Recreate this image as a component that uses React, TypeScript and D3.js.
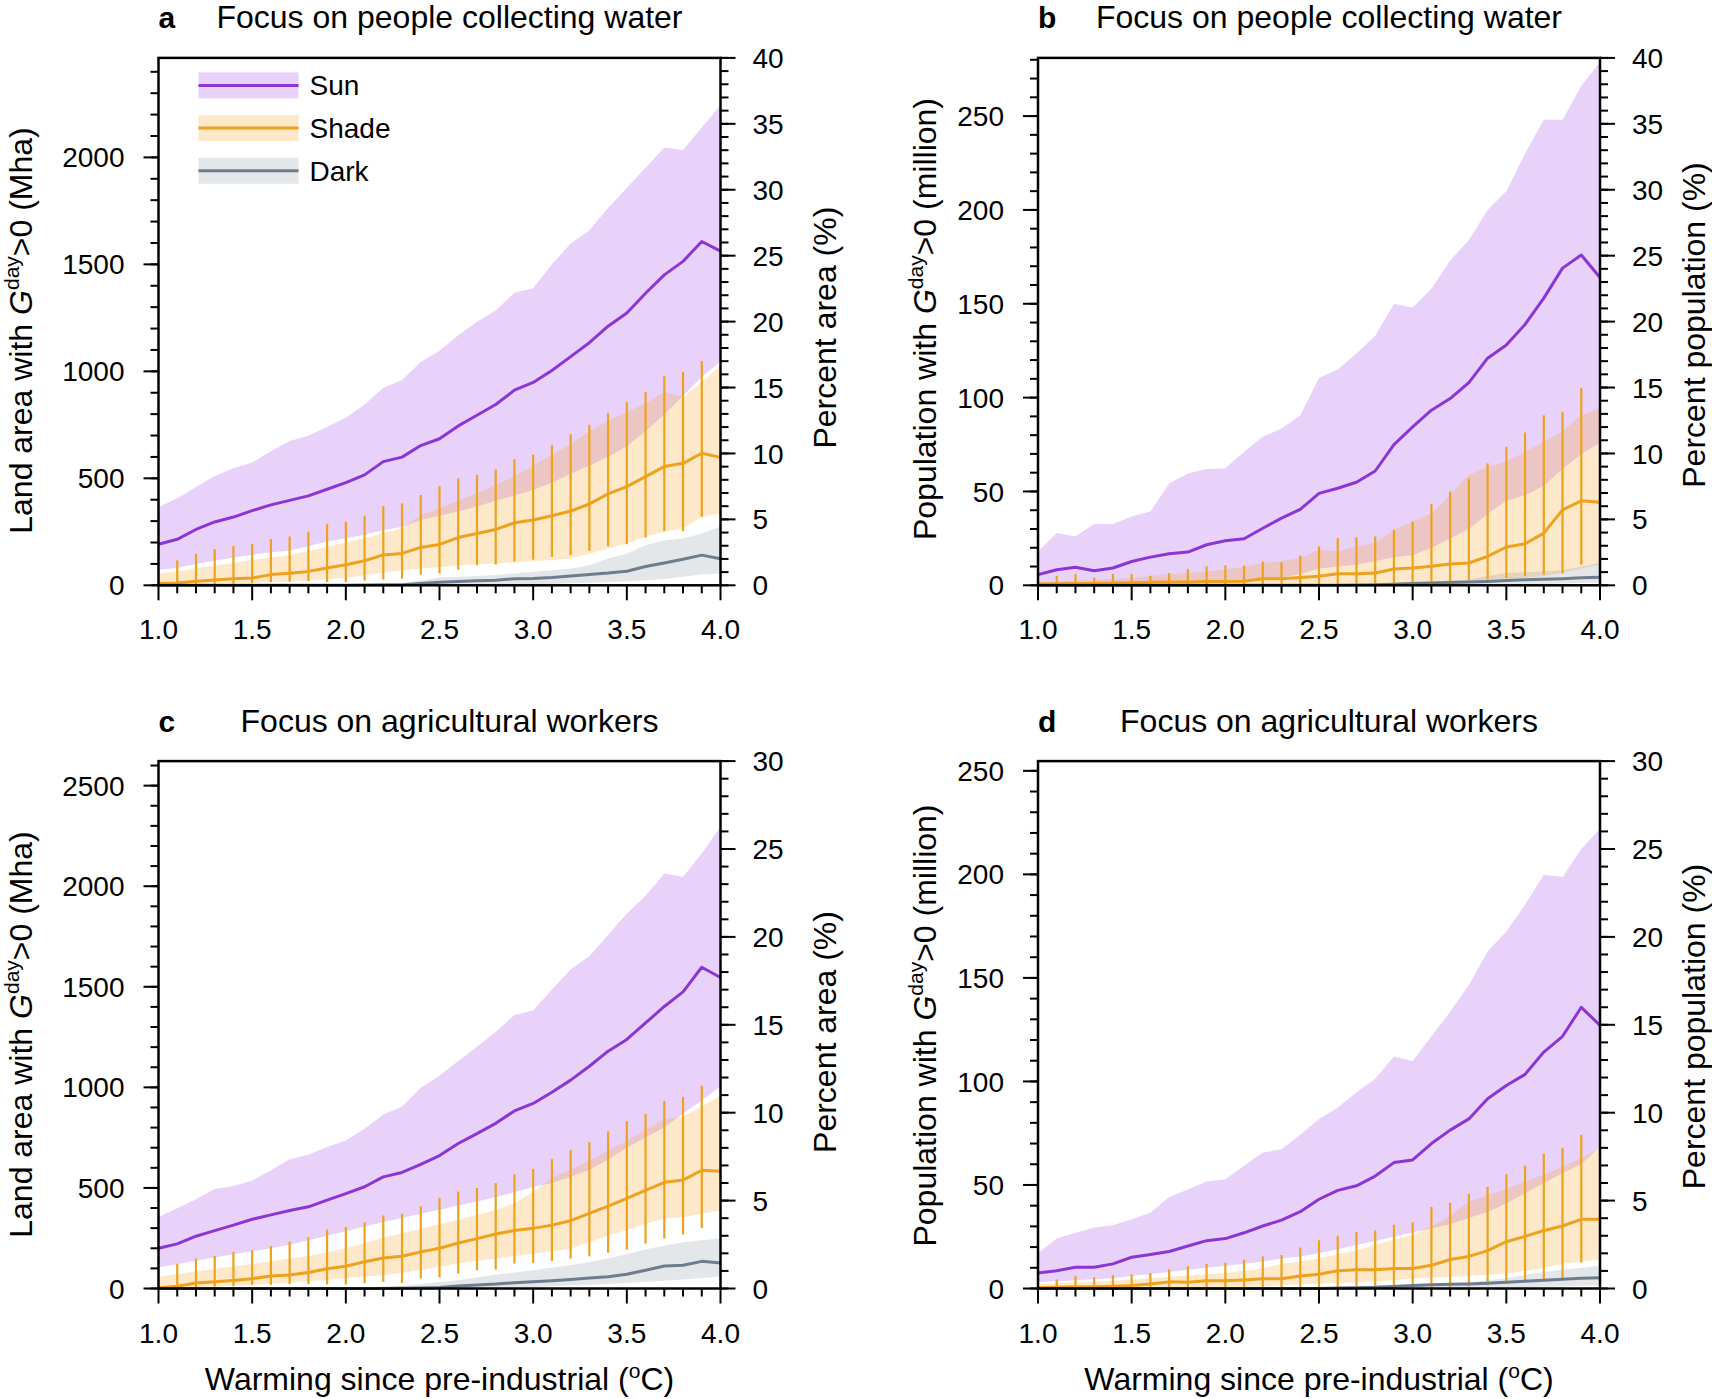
import React from 'react';
import * as d3 from 'd3';

// warming levels (°C above pre-industrial)
const warming = [1.0, 1.1, 1.2, 1.3, 1.4, 1.5, 1.6, 1.7, 1.8, 1.9, 2.0, 2.1, 2.2, 2.3, 2.4, 2.5, 2.6, 2.7, 2.8, 2.9, 3.0, 3.1, 3.2, 3.3, 3.4, 3.5, 3.6, 3.7, 3.8, 3.9, 4.0];
// error bars are drawn for 1.1 ... 3.9
const barWarming = warming.slice(1, 30);
const xTicks = [1.0, 1.5, 2.0, 2.5, 3.0, 3.5, 4.0];

// ---- panel a: land area, people collecting water (Mha)
const aSunMid = [192, 215, 261, 296, 319, 349, 376, 397, 418, 449, 480, 516, 578, 599, 653, 685, 745, 795, 845, 912, 948, 1004, 1069, 1134, 1211, 1273, 1365, 1451, 1514, 1607, 1562];
const aSunHi = [365, 407, 459, 511, 547, 574, 626, 674, 699, 741, 783, 845, 923, 960, 1044, 1096, 1169, 1232, 1284, 1367, 1388, 1500, 1597, 1660, 1764, 1858, 1952, 2046, 2035, 2140, 2244];
const aSunLo = [73, 81, 99, 115, 130, 143, 155, 161, 182, 205, 220, 236, 259, 272, 305, 325, 345, 368, 395, 420, 445, 480, 520, 560, 600, 650, 720, 800, 885, 975, 1045];
const aShadeMid = [8, 11, 19, 25, 31, 34, 50, 56, 65, 81, 96, 115, 142, 149, 177, 191, 223, 242, 261, 292, 305, 325, 347, 380, 427, 461, 508, 555, 570, 617, 598];
const aShadeHi = [55, 65, 80, 92, 104, 118, 130, 142, 160, 180, 200, 220, 245, 265, 330, 360, 395, 430, 470, 510, 560, 610, 660, 720, 770, 810, 850, 905, 880, 950, 1025];
const aShadeLo = [3, 4, 6, 8, 10, 12, 15, 18, 22, 28, 36, 46, 60, 70, 78, 86, 92, 97, 102, 107, 112, 118, 125, 148, 172, 195, 227, 250, 266, 320, 336];
const aBarHi = [116, 148, 169, 183, 194, 216, 228, 250, 286, 298, 325, 370, 383, 422, 464, 500, 516, 542, 589, 611, 655, 706, 750, 805, 856, 903, 977, 998, 1048];
const aBarLo = [3, 3, 5, 7, 10, 14, 17, 20, 15, 15, 22, 27, 31, 50, 55, 73, 94, 97, 112, 120, 133, 141, 161, 183, 192, 223, 253, 253, 320];
const aDarkMid = [0, 0, 0, 0, 0, 0, 0, 0, 0, 0, 0, 1, 2, 3, 8, 14, 18, 21, 24, 31, 32, 36, 44, 50, 57, 66, 88, 104, 122, 141, 124];
const aDarkHi = [0, 0, 0, 0, 0, 0, 1, 1, 2, 2, 3, 4, 6, 10, 22, 36, 40, 44, 48, 56, 63, 70, 78, 94, 125, 148, 188, 211, 219, 242, 275];
const aDarkLo = [0, 0, 0, 0, 0, 0, 0, 0, 0, 0, 0, 0, 0, 0, 0, 0, 0, 0, 1, 2, 4, 6, 9, 12, 15, 18, 24, 30, 40, 50, 55];

// ---- panel b: population, people collecting water (million)
const bSunMid = [5.7, 8.3, 9.6, 7.8, 9.2, 12.7, 15.0, 16.8, 17.7, 21.6, 23.7, 24.8, 30.4, 35.8, 40.5, 49.0, 51.7, 54.9, 60.9, 75.0, 84.4, 93.3, 99.5, 108, 121, 128, 139, 153, 169, 176, 164];
const bSunHi = [18, 27.8, 26, 32.6, 32.6, 36.6, 39.3, 54.3, 59.6, 61.9, 62.3, 71.2, 79.1, 83.5, 90.6, 110.5, 115, 123.5, 133, 150, 148, 158, 173, 184, 200, 210, 230, 248, 248, 266, 279];
const bSunLo = [1, 1, 1, 1, 1.2, 1.4, 1.6, 1.8, 2, 2, 2.2, 2.5, 3, 4, 6, 9, 10, 11, 13, 15, 16, 20, 25, 30, 38, 45, 48, 53, 62, 70, 76];
const bShadeMid = [0.7, 0.8, 1, 1, 1.2, 1.4, 1.6, 1.8, 1.8, 2, 2, 2.1, 3.5, 3.5, 4.2, 4.8, 6.2, 6.2, 6.5, 8.7, 9.2, 10.1, 11.3, 11.9, 15.4, 20.4, 22.1, 27.8, 40.2, 45, 44.2];
const bShadeHi = [1.5, 2, 2.5, 3, 3.5, 3.9, 5, 6, 6.5, 7.5, 8.3, 10, 11.9, 13, 14.5, 18.9, 18, 20.7, 22.5, 29.6, 34, 38.4, 48.1, 58.8, 63.2, 65.8, 71.2, 76.5, 82.1, 90.6, 94.2];
const bShadeLo = [0, 0, 0, 0, 0, 0, 0, 0, 0, 0, 0.1, 0.2, 0.3, 0.3, 0.4, 0.5, 0.5, 0.6, 0.8, 1, 1.2, 1.5, 2, 2.5, 3, 3.5, 4, 5, 6.5, 9, 11];
const bBarHi = [5.1, 6, 4.2, 6.2, 6, 5.1, 6.5, 8.7, 10.1, 10.6, 10.6, 12.7, 12.2, 15.9, 20.7, 25.1, 25.5, 26, 29.6, 34, 43.2, 49.9, 57, 65, 73.8, 81.4, 90.6, 92.4, 105];
const bBarLo = [0, 0, 0, 0, 0, 0, 0, 0, 0, 0, 0, 0, 0, 0, 0, 0, 0, 0.5, 0.8, 1, 2, 2, 2.8, 3, 3.9, 4.8, 5.7, 6.2, 11];
const bDarkMid = [0, 0, 0, 0, 0, 0, 0, 0, 0, 0, 0, 0, 0, 0, 0, 0, 0, 0.2, 0.3, 0.6, 1, 1.2, 1.5, 1.7, 2, 2.5, 3, 3.2, 3.5, 4, 4.3];
const bDarkHi = [0, 0, 0, 0, 0, 0, 0, 0, 0, 0, 0, 0, 0, 0, 0, 0.3, 0.5, 0.8, 1, 1.3, 1.5, 2, 2.5, 3, 5, 6.5, 7, 7.5, 8, 10, 12];
const bDarkLo = [0, 0, 0, 0, 0, 0, 0, 0, 0, 0, 0, 0, 0, 0, 0, 0, 0, 0, 0, 0, 0, 0, 0, 0, 0, 0.2, 0.4, 0.6, 0.9, 1.2, 1.5];

// ---- panel c: land area, agricultural workers (Mha)
const cSunMid = [200, 222, 260, 288, 315, 344, 366, 388, 406, 439, 472, 506, 555, 577, 617, 661, 721, 770, 821, 883, 920, 976, 1036, 1105, 1180, 1238, 1320, 1402, 1475, 1597, 1546];
const cSunHi = [355, 399, 444, 495, 510, 537, 588, 643, 665, 703, 736, 794, 865, 905, 998, 1058, 1131, 1202, 1275, 1360, 1382, 1486, 1586, 1652, 1759, 1863, 1952, 2063, 2047, 2163, 2296];
const cSunLo = [106, 120, 138, 154, 170, 185, 200, 218, 240, 262, 285, 308, 330, 350, 372, 392, 413, 433, 454, 478, 504, 525, 555, 590, 640, 700, 752, 801, 870, 935, 1005];
const cShadeMid = [4, 11, 27, 33, 40, 49, 62, 67, 80, 98, 111, 133, 152, 160, 182, 200, 226, 248, 271, 288, 299, 315, 337, 373, 410, 448, 488, 528, 539, 588, 583];
const cShadeHi = [60, 72, 85, 97, 110, 122, 135, 148, 162, 180, 200, 225, 253, 275, 297, 320, 342, 365, 390, 425, 480, 550, 590, 636, 685, 735, 790, 842, 855, 905, 960];
const cShadeLo = [3, 5, 8, 10, 14, 18, 24, 30, 36, 44, 52, 60, 66, 78, 91, 108, 124, 137, 149, 161, 173, 185, 198, 230, 264, 289, 322, 347, 355, 372, 388];
const cBarHi = [122, 149, 162, 182, 189, 211, 233, 255, 293, 306, 328, 363, 372, 408, 451, 482, 500, 524, 567, 595, 643, 689, 727, 781, 831, 867, 933, 953, 1008];
const cBarLo = [4, 4, 9, 11, 18, 18, 22, 22, 20, 20, 27, 33, 28, 50, 55, 74, 91, 94, 124, 127, 137, 149, 160, 178, 193, 223, 248, 269, 301];
const cDarkMid = [0, 0, 0, 0, 0, 0, 0, 0, 0, 0, 0, 0, 0, 1, 3, 5, 12, 18, 22, 29, 33, 38, 45, 52, 58, 71, 91, 112, 116, 135, 127];
const cDarkHi = [0, 0, 0, 0, 0, 0, 0, 0, 1, 2, 3, 5, 10, 14, 22, 32, 41, 55, 68, 80, 91, 104, 116, 132, 149, 170, 195, 212, 230, 240, 250];
const cDarkLo = [0, 0, 0, 0, 0, 0, 0, 0, 0, 0, 0, 0, 0, 0, 0, 0, 0, 1, 3, 5, 8, 11, 15, 18, 22, 27, 33, 39, 45, 52, 58];

// ---- panel d: population, agricultural workers (million)
const dSunMid = [7.5, 8.6, 10.3, 10.3, 11.9, 15.1, 16.4, 17.9, 20.5, 23.1, 24.1, 26.9, 30.2, 33, 37.1, 43.1, 47.4, 49.6, 54.3, 60.8, 62.1, 70, 76.5, 81.9, 91.6, 98, 103.4, 114.2, 121.8, 135.8, 127.1];
const dSunHi = [17.2, 24.1, 26.9, 29.5, 30.6, 33.4, 36.6, 44.2, 47.8, 51.7, 52.8, 59.3, 65.7, 67.2, 74.3, 81.9, 87.3, 94.8, 101.3, 112.1, 109.9, 121.8, 133.6, 146.5, 162.7, 172.4, 185.3, 199.8, 198.7, 212.3, 222];
const dSunLo = [3, 3.5, 4, 4.5, 5, 6, 7, 8, 9, 10, 11, 12, 13, 14.5, 15.5, 17, 19, 21, 23, 25, 27, 29, 31, 34, 37, 41, 46, 51, 55.6, 60, 68.5];
const dShadeMid = [0.4, 0.6, 0.9, 0.9, 1.1, 1.5, 2.2, 3.2, 3, 3.7, 3.7, 4.1, 4.7, 4.7, 6, 6.9, 8.6, 9.1, 9.1, 9.7, 9.7, 11.2, 14, 15.5, 18.3, 22.6, 25.2, 28, 30.2, 33.4, 33.4];
const dShadeHi = [2.2, 2.6, 3, 3.4, 3.8, 4.3, 5, 5.7, 6.3, 6.9, 7.5, 8.6, 9.7, 12, 13, 14.5, 16.5, 18.5, 21, 23.5, 26, 30, 35, 42, 45, 48, 51.5, 55, 58.8, 63, 67.7];
const dShadeLo = [0, 0, 0, 0, 0, 0.1, 0.2, 0.3, 0.4, 0.5, 0.6, 0.8, 1, 1.5, 2, 2.3, 2.7, 3, 3.5, 4, 4.8, 5.2, 5.6, 6, 6.6, 7.2, 8.5, 10, 12, 13, 14];
const dBarHi = [4.3, 6, 5.4, 6.5, 6.9, 7.5, 9.3, 10.8, 11.9, 12.5, 14, 15.5, 16.2, 19.8, 23.3, 25.4, 27.4, 28, 30.8, 31.9, 39.4, 41.4, 45.7, 49.1, 55.2, 59.3, 65.1, 67.9, 74.3];
const dBarLo = [0, 0, 0, 0, 0, 0, 0, 0, 0, 0, 0, 0, 0, 0, 0, 0, 0, 0, 0, 0, 0.4, 0.6, 1, 1.5, 2.2, 3.2, 4.3, 4.7, 12.5];
const dDarkMid = [0, 0, 0, 0, 0, 0, 0, 0, 0, 0, 0, 0, 0, 0, 0, 0, 0.2, 0.4, 0.6, 1, 1.5, 1.8, 2, 2.2, 2.5, 3, 3.5, 4, 4.5, 5, 5.2];
const dDarkHi = [0, 0, 0, 0, 0, 0, 0, 0, 0, 0, 0, 0, 0, 0, 0.3, 0.5, 0.8, 1.2, 1.5, 1.8, 2, 2.3, 2.6, 3, 4, 5, 6.5, 8, 9, 10, 11];
const dDarkLo = [0, 0, 0, 0, 0, 0, 0, 0, 0, 0, 0, 0, 0, 0, 0, 0, 0, 0, 0, 0, 0, 0, 0, 0, 0.2, 0.4, 0.6, 0.8, 1, 1.3, 1.5];

// axis tick labels
const areaTicksA = [0, 500, 1000, 1500, 2000];
const areaTicksC = [0, 500, 1000, 1500, 2000, 2500];
const popTicks = [0, 50, 100, 150, 200, 250];
const pctTicks40 = [0, 5, 10, 15, 20, 25, 30, 35, 40];
const pctTicks30 = [0, 5, 10, 15, 20, 25, 30];
const legendNames = ['Sun', 'Shade', 'Dark'];

const FONT = '"Liberation Sans", Arial, Helvetica, sans-serif';
const SUN_LINE = '#8b35d6';
const SUN_FILL = '#e9d2fa';
const SHADE_LINE = '#eea11c';
const SHADE_FILL = '#f5a31c';
const SHADE_OP = 0.24;
const DARK_LINE = '#6d7d8d';
const DARK_FILL = '#7a8898';
const DARK_OP = 0.2;

const PW = 562;
const PH = 527.4;

interface Band { mid: number[]; lo: number[]; hi: number[] }

interface PanelProps {
  letter: string;
  title: string;
  left: number;
  top: number;
  yMax: number;
  yTicks: number[];
  yMinor: number;
  pctMax: number;
  pctTicks: number[];
  kind: 'area' | 'pop';
  rightLabel: string;
  leftLabelX: number;
  leftLabelY: number;
  rightLabelX: number;
  rightLabelY: number;
  sun: Band;
  shade: Band;
  dark: Band;
  barLo: number[];
  barHi: number[];
  legend?: boolean;
  xLabel?: boolean;
}

const Panel: React.FC<PanelProps> = p => {
  const x = d3.scaleLinear().domain([1, 4]).range([p.left, p.left + PW]);
  const y = d3.scaleLinear().domain([0, p.yMax]).range([p.top + PH, p.top]);
  const yr = d3.scaleLinear().domain([0, p.pctMax]).range([p.top + PH, p.top]);
  const bottom = p.top + PH;
  const right = p.left + PW;

  const area = (lo: number[], hi: number[]) =>
    d3.area<number>()
      .x((_, i) => x(warming[i]))
      .y0((_, i) => y(lo[i]))
      .y1((_, i) => y(hi[i]))(warming) || '';
  const line = (v: number[]) =>
    d3.line<number>()
      .x((_, i) => x(warming[i]))
      .y((_, i) => y(v[i]))(warming) || '';

  const xMinor = d3.range(10, 41).map(v => v / 10);
  const yMinor = d3.range(0, p.yMax + 0.001, p.yMinor);
  const rMinor = d3.range(0, p.pctMax + 1, 1);

  const gLabel = p.kind === 'area' ? '>0 (Mha)' : '>0 (million)';
  const gLead = p.kind === 'area' ? 'Land area with ' : 'Population with ';

  return (
    <g fontFamily={FONT}>
      {/* bands */}
      <path d={area(p.sun.lo, p.sun.hi)} fill={SUN_FILL} />
      <path d={area(p.shade.lo, p.shade.hi)} fill={SHADE_FILL} fillOpacity={SHADE_OP} />
      <path d={area(p.dark.lo, p.dark.hi)} fill={DARK_FILL} fillOpacity={DARK_OP} />

      {/* shade error bars */}
      {barWarming.map((w, i) => (
        <line key={'b' + i} x1={x(w)} x2={x(w)} y1={y(p.barLo[i])} y2={y(p.barHi[i])}
          stroke={SHADE_LINE} strokeWidth={2.2} />
      ))}

      <path d={line(p.shade.mid)} fill="none" stroke={SHADE_LINE} strokeWidth={3} strokeLinejoin="round" />
      <path d={line(p.dark.mid)} fill="none" stroke={DARK_LINE} strokeWidth={3} strokeLinejoin="round" />
      <path d={line(p.sun.mid)} fill="none" stroke={SUN_LINE} strokeWidth={3} strokeLinejoin="round" />

      {/* frame */}
      <rect x={p.left} y={p.top} width={PW} height={PH} fill="none" stroke="#000" strokeWidth={2.5} />

      {/* x ticks */}
      {xMinor.map((v, i) => {
        const major = Math.abs(v * 2 - Math.round(v * 2)) < 1e-6;
        return <line key={'xt' + i} x1={x(v)} x2={x(v)} y1={bottom} y2={bottom + (major ? 15 : 8)} stroke="#000" strokeWidth={2} />;
      })}
      {xTicks.map(v => (
        <text key={'xl' + v} x={x(v)} y={bottom + 54} fontSize={28} textAnchor="middle">{v.toFixed(1)}</text>
      ))}

      {/* left axis */}
      {yMinor.map((v, i) => (
        <line key={'yt' + i} x1={p.left} x2={p.left - 8} y1={y(v)} y2={y(v)} stroke="#000" strokeWidth={2} />
      ))}
      {p.yTicks.map(v => (
        <g key={'yl' + v}>
          <line x1={p.left} x2={p.left - 15} y1={y(v)} y2={y(v)} stroke="#000" strokeWidth={2} />
          <text x={p.left - 34} y={y(v)} dy="0.36em" fontSize={28} textAnchor="end">{v}</text>
        </g>
      ))}

      {/* right axis */}
      {rMinor.map((v, i) => (
        <line key={'rt' + i} x1={right} x2={right + 8} y1={yr(v)} y2={yr(v)} stroke="#000" strokeWidth={2} />
      ))}
      {p.pctTicks.map(v => (
        <g key={'rl' + v}>
          <line x1={right} x2={right + 15} y1={yr(v)} y2={yr(v)} stroke="#000" strokeWidth={2} />
          <text x={right + 32} y={yr(v)} dy="0.36em" fontSize={28} textAnchor="start">{v}</text>
        </g>
      ))}

      {/* titles */}
      <text x={p.left} y={p.top - 29.5} fontSize={30} fontWeight="bold">{p.letter}</text>
      <text x={p.left + PW / 2 + 10} y={p.top - 29.5} fontSize={32} textAnchor="middle">{p.title}</text>

      {/* axis labels */}
      <text transform={`translate(${p.leftLabelX},${p.leftLabelY}) rotate(-90)`} fontSize={32} textAnchor="middle">
        {gLead}<tspan fontStyle="italic">G</tspan><tspan dy={-13} fontSize={21}>day</tspan><tspan dy={13}>{gLabel}</tspan>
      </text>
      <text transform={`translate(${p.rightLabelX},${p.rightLabelY}) rotate(-90)`} fontSize={32} textAnchor="middle">
        {p.rightLabel}
      </text>

      {p.xLabel && (
        <text x={p.left + PW / 2} y={1390} fontSize={32} textAnchor="middle">
          Warming since pre-industrial (<tspan dy={-12} fontSize={21}>o</tspan><tspan dy={12}>C)</tspan>
        </text>
      )}

      {p.legend && legendNames.map((name, i) => {
        const cy = p.top + 27.5 + i * 42.7;
        const fill = i === 0 ? SUN_FILL : i === 1 ? SHADE_FILL : DARK_FILL;
        const op = i === 0 ? 1 : i === 1 ? SHADE_OP : DARK_OP;
        const stroke = i === 0 ? SUN_LINE : i === 1 ? SHADE_LINE : DARK_LINE;
        return (
          <g key={name}>
            <rect x={p.left + 40} y={cy - 13} width={100} height={26} fill={fill} fillOpacity={op} />
            <line x1={p.left + 40} x2={p.left + 140} y1={cy} y2={cy} stroke={stroke} strokeWidth={3} />
            <text x={p.left + 151} y={cy} dy="0.36em" fontSize={28}>{name}</text>
          </g>
        );
      })}
    </g>
  );
};

const App: React.FC = () => (
  <svg width={1712} height={1399} style={{ position: 'absolute', left: 0, top: 0, background: '#fff' }}>
    <Panel letter="a" title="Focus on people collecting water" left={158.5} top={57.9}
      yMax={2465} yTicks={areaTicksA} yMinor={100} pctMax={40} pctTicks={pctTicks40}
      kind="area" rightLabel="Percent area (%)"
      leftLabelX={32} leftLabelY={330.5} rightLabelX={836} rightLabelY={327.6}
      sun={{ mid: aSunMid, lo: aSunLo, hi: aSunHi }}
      shade={{ mid: aShadeMid, lo: aShadeLo, hi: aShadeHi }}
      dark={{ mid: aDarkMid, lo: aDarkLo, hi: aDarkHi }}
      barLo={aBarLo} barHi={aBarHi} legend />
    <Panel letter="b" title="Focus on people collecting water" left={1038} top={57.9}
      yMax={281} yTicks={popTicks} yMinor={10} pctMax={40} pctTicks={pctTicks40}
      kind="pop" rightLabel="Percent population (%)"
      leftLabelX={936} leftLabelY={319} rightLabelX={1705} rightLabelY={325}
      sun={{ mid: bSunMid, lo: bSunLo, hi: bSunHi }}
      shade={{ mid: bShadeMid, lo: bShadeLo, hi: bShadeHi }}
      dark={{ mid: bDarkMid, lo: bDarkLo, hi: bDarkHi }}
      barLo={bBarLo} barHi={bBarHi} />
    <Panel letter="c" title="Focus on agricultural workers" left={158.5} top={761.1}
      yMax={2622} yTicks={areaTicksC} yMinor={100} pctMax={30} pctTicks={pctTicks30}
      kind="area" rightLabel="Percent area (%)"
      leftLabelX={32} leftLabelY={1034.5} rightLabelX={836} rightLabelY={1032}
      sun={{ mid: cSunMid, lo: cSunLo, hi: cSunHi }}
      shade={{ mid: cShadeMid, lo: cShadeLo, hi: cShadeHi }}
      dark={{ mid: cDarkMid, lo: cDarkLo, hi: cDarkHi }}
      barLo={cBarLo} barHi={cBarHi} xLabel />
    <Panel letter="d" title="Focus on agricultural workers" left={1038} top={761.1}
      yMax={254.7} yTicks={popTicks} yMinor={10} pctMax={30} pctTicks={pctTicks30}
      kind="pop" rightLabel="Percent population (%)"
      leftLabelX={936} leftLabelY={1025.5} rightLabelX={1705} rightLabelY={1026.5}
      sun={{ mid: dSunMid, lo: dSunLo, hi: dSunHi }}
      shade={{ mid: dShadeMid, lo: dShadeLo, hi: dShadeHi }}
      dark={{ mid: dDarkMid, lo: dDarkLo, hi: dDarkHi }}
      barLo={dBarLo} barHi={dBarHi} xLabel />
  </svg>
);

export default App;
